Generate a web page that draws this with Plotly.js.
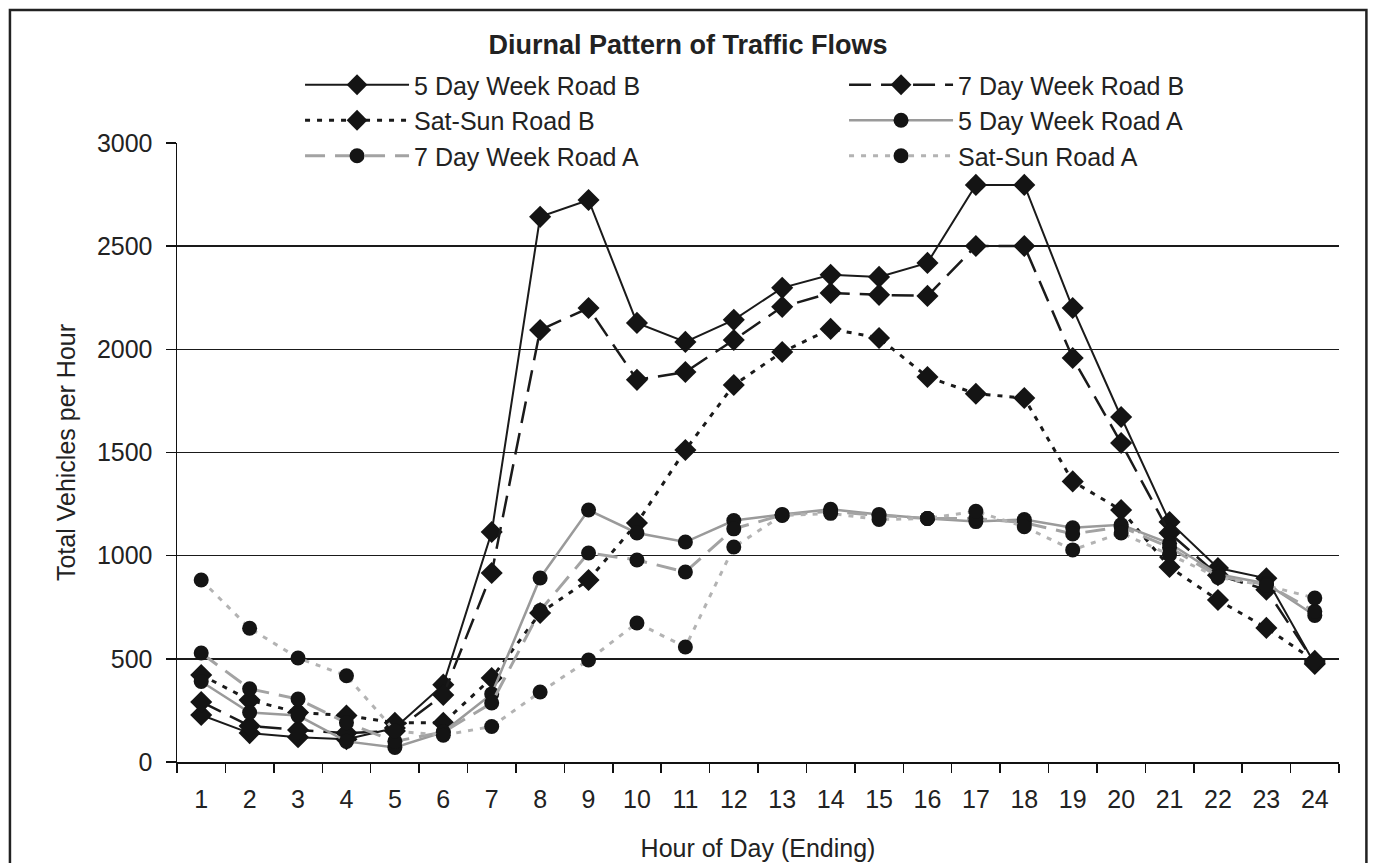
<!DOCTYPE html>
<html>
<head>
<meta charset="utf-8">
<script src="https://cdn.plot.ly/plotly-3.0.1.min.js"></script>
<style>
  html, body { margin: 0; padding: 0; background: #ffffff; }
  #chart { width: 1376px; height: 863px; }
</style>
</head>
<body>
<div id="chart"></div>
<script>
// ---- Data ----
const hours = ["1","2","3","4","5","6","7","8","9","10","11","12","13","14","15","16","17","18","19","20","21","22","23","24"];

const fiveDayRoadB  = [228, 140, 120, 110, 165, 375, 1115, 2642, 2724, 2128, 2036, 2143, 2298, 2361, 2351, 2419, 2797, 2797, 2200, 1672, 1163, 940, 890, 475];
const sevenDayRoadB = [291, 175, 155, 140, 150, 325, 916, 2094, 2200, 1852, 1890, 2045, 2206, 2273, 2264, 2259, 2501, 2501, 1958, 1546, 1110, 905, 835, 480];
const satSunRoadB   = [422, 300, 240, 225, 190, 190, 407, 722, 882, 1158, 1512, 1827, 1987, 2099, 2055, 1866, 1785, 1764, 1360, 1221, 945, 785, 650, 490];
const fiveDayRoadA  = [390, 240, 225, 100, 70, 145, 330, 892, 1221, 1110, 1066, 1170, 1200, 1225, 1200, 1180, 1165, 1175, 1135, 1150, 1060, 910, 865, 710];
const sevenDayRoadA = [528, 355, 305, 190, 100, 145, 286, 734, 1013, 979, 921, 1130, 1197, 1215, 1195, 1180, 1180, 1160, 1105, 1140, 1040, 900, 860, 730];
const satSunRoadA   = [882, 648, 504, 418, 150, 130, 172, 339, 494, 674, 557, 1042, 1195, 1205, 1175, 1180, 1215, 1140, 1028, 1110, 1005, 895, 855, 795];

const seriesNames = ["5 Day Week Road B", "7 Day Week Road B", "Sat-Sun Road B",
                     "5 Day Week Road A", "7 Day Week Road A", "Sat-Sun Road A"];

// ---- Styles ----
const FONT = "Liberation Sans, Arial, Helvetica, sans-serif";
const markerDiamond = { symbol: "diamond", size: 17, color: "#141414", line: { width: 0 } };
const markerCircle  = { symbol: "circle",  size: 15, color: "#141414", line: { width: 0 } };

const traces = [
  { y: fiveDayRoadB,  name: seriesNames[0], line: { color: "#1a1a1a", width: 2,   dash: "solid" },        marker: markerDiamond },
  { y: sevenDayRoadB, name: seriesNames[1], line: { color: "#1a1a1a", width: 2.5, dash: "22px,10px" },    marker: markerDiamond },
  { y: satSunRoadB,   name: seriesNames[2], line: { color: "#1a1a1a", width: 3,   dash: "5px,7px" },      marker: markerDiamond },
  { y: fiveDayRoadA,  name: seriesNames[3], line: { color: "#9a9a9a", width: 2.5, dash: "solid" },        marker: markerCircle },
  { y: sevenDayRoadA, name: seriesNames[4], line: { color: "#a3a3a3", width: 3,   dash: "20px,10px" },    marker: markerCircle },
  { y: satSunRoadA,   name: seriesNames[5], line: { color: "#b3b3b3", width: 3,   dash: "5px,7px" },      marker: markerCircle }
].map(t => Object.assign({ x: hours, type: "scatter", mode: "lines+markers" }, t));

// plot area in pixels: left 177, right 1338.6, top 143, bottom 762
const W = 1376, H = 863;
const L = 177, R = 1338.6, T = 143, B = 762;
const pw = R - L, ph = B - T;
const px = v => (v - L) / pw;
const py = v => (B - v) / ph;

const layout = {
  width: W, height: H,
  margin: { l: L, r: W - R, t: T, b: H - B, pad: 0, autoexpand: false },
  paper_bgcolor: "#ffffff",
  plot_bgcolor: "#ffffff",
  font: { family: FONT, size: 25, color: "#222222" },
  title: {
    text: "<b>Diurnal Pattern of Traffic Flows</b>",
    font: { family: FONT, size: 27, color: "#222222" },
    x: 0.5, xref: "container", xanchor: "center",
    y: 1 - 45 / H, yref: "container", yanchor: "middle"
  },
  xaxis: {
    type: "category",
    range: [-0.5, 23.5],
    autorange: false,
    tickson: "boundaries",
    ticks: "outside", ticklen: 9, tickwidth: 1.5, tickcolor: "#111",
    showline: true, linecolor: "#111", linewidth: 1.5,
    showgrid: false, zeroline: false,
    tickfont: { family: FONT, size: 25, color: "#222" },
    ticklabelstandoff: 14,
    title: { text: "Hour of Day (Ending)", font: { family: FONT, size: 25, color: "#222" }, standoff: 28 },
    fixedrange: true
  },
  yaxis: {
    range: [0, 3000],
    autorange: false,
    tickvals: [0, 500, 1000, 1500, 2000, 2500, 3000],
    ticktext: ["0", "500", "1000", "1500", "2000", "2500", "3000"],
    ticks: "outside", ticklen: 10, tickwidth: 1.5, tickcolor: "#111",
    showline: true, linecolor: "#111", linewidth: 1.5,
    showgrid: true, gridcolor: "#1a1a1a", gridwidth: 1.5,
    zeroline: false,
    tickfont: { family: FONT, size: 25, color: "#222" },
    ticklabelstandoff: 8,
    title: { text: "Total Vehicles per Hour", font: { family: FONT, size: 25, color: "#222" }, standoff: 14 },
    fixedrange: true
  },
  legend: {
    orientation: "h",
    x: px(300), xanchor: "left",
    y: py(62), yanchor: "top",
    bgcolor: "rgba(0,0,0,0)",
    borderwidth: 0,
    font: { family: FONT, size: 25, color: "#222" },
    itemwidth: 104,
    entrywidth: 425,
    entrywidthmode: "pixels",
    traceorder: "normal"
  },
  shapes: [
    // white band hiding the 3000 gridline behind the legend
    { type: "rect", xref: "paper", yref: "paper", layer: "between",
      x0: px(210), x1: px(1300), y0: py(150), y1: py(136),
      fillcolor: "#ffffff", line: { width: 0 } },
    // outer frame of the figure
    { type: "rect", xref: "paper", yref: "paper", layer: "above",
      x0: px(10), x1: px(1366), y0: py(880), y1: py(10),
      fillcolor: "rgba(0,0,0,0)", line: { color: "#222", width: 2.5 } }
  ],
  showlegend: true
};

Plotly.newPlot("chart", traces, layout, { displayModeBar: false, staticPlot: true });
</script>
</body>
</html>
